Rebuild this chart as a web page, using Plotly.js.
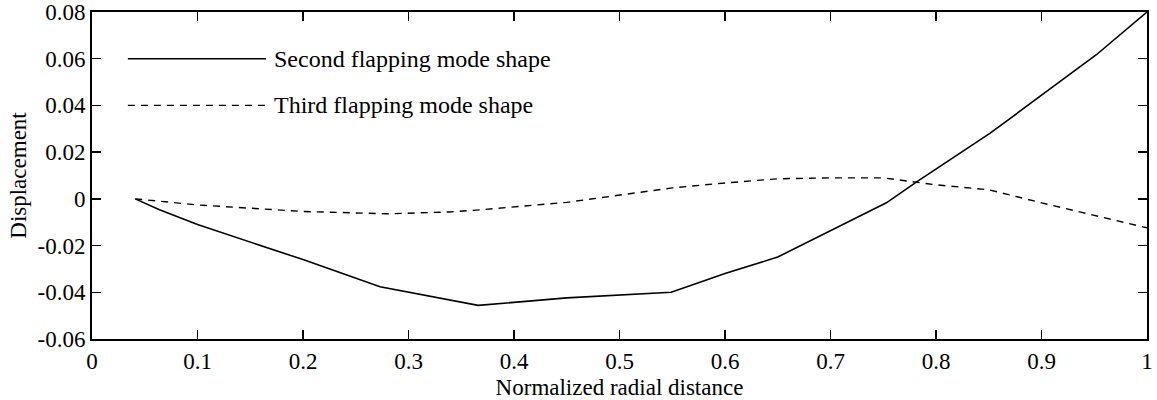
<!DOCTYPE html>
<html>
<head>
<meta charset="utf-8">
<script src="https://cdn.plot.ly/plotly-3.0.1.min.js"></script>
<style>html,body{margin:0;padding:0;background:#fff;}#chart{width:1157px;height:400px;}</style>
</head>
<body>
<div id="chart"></div>
<script>
// Second flapping mode shape (solid)
const secondX = [0.041, 0.064, 0.10, 0.20, 0.273, 0.366, 0.45, 0.549, 0.60, 0.650, 0.753, 0.782, 0.851, 0.901, 0.952, 1.0];
const secondY = [0.0, -0.0047, -0.011, -0.026, -0.0376, -0.0456, -0.0424, -0.040, -0.032, -0.0249, -0.0017, 0.0074, 0.0280, 0.0445, 0.0617, 0.08];
// Third flapping mode shape (dashed)
const thirdX = [0.041, 0.10, 0.20, 0.28, 0.339, 0.368, 0.45, 0.55, 0.60, 0.65, 0.70, 0.75, 0.80, 0.85, 0.90, 1.0];
const thirdY = [0.0, -0.0026, -0.0054, -0.0064, -0.0056, -0.0047, -0.0015, 0.0047, 0.0068, 0.0086, 0.009, 0.009, 0.006, 0.0039, -0.0017, -0.0124];
const seriesNames = ["Second flapping mode shape", "Third flapping mode shape"];
const xTicks = [0, 0.1, 0.2, 0.3, 0.4, 0.5, 0.6, 0.7, 0.8, 0.9, 1];
const xTickText = ["0", "0.1", "0.2", "0.3", "0.4", "0.5", "0.6", "0.7", "0.8", "0.9", "1"];
const yTicks = [-0.06, -0.04, -0.02, 0, 0.02, 0.04, 0.06, 0.08];
const yTickText = ["-0.06", "-0.04", "-0.02", "0", "0.02", "0.04", "0.06", "0.08"];

const fam = "Liberation Serif, Times New Roman, serif";
const tickFont = {family: fam, size: 23, color: "#000"};
const titleFont = {family: fam, size: 23, color: "#000"};
const legFont = {family: fam, size: 24, color: "#000"};

const traces = [
  {x: secondX, y: secondY, mode: "lines", name: seriesNames[0], line: {color: "#000", width: 1.6}, showlegend: false},
  {x: thirdX, y: thirdY, mode: "lines", name: seriesNames[1], line: {color: "#000", width: 1.4, dash: "7px,6px"}, showlegend: false}
];

const layout = {
  width: 1157, height: 400,
  margin: {l: 92, r: 10, t: 12, b: 61},
  paper_bgcolor: "#fff", plot_bgcolor: "#fff",
  font: tickFont,
  xaxis: {
    range: [0, 1], tickvals: xTicks, ticktext: xTickText,
    ticks: "inside", ticklen: 9, tickwidth: 1.5, tickcolor: "#000",
    showline: true, linecolor: "#000", linewidth: 2, mirror: "ticks",
    showgrid: false, zeroline: false, automargin: false,
    tickfont: tickFont,
    title: {text: "Normalized radial distance", font: titleFont, standoff: 8}
  },
  yaxis: {
    range: [-0.06, 0.08], tickvals: yTicks, ticktext: yTickText,
    ticks: "inside", ticklen: 9, tickwidth: 1.5, tickcolor: "#000",
    showline: true, linecolor: "#000", linewidth: 2, mirror: "ticks",
    showgrid: false, zeroline: false, automargin: false,
    tickfont: tickFont,
    title: {text: "Displacement", font: titleFont, standoff: 4}
  },
  shapes: [
    {type: "line", xref: "x", yref: "y", x0: 0.034, x1: 0.165, y0: 0.06, y1: 0.06, line: {color: "#000", width: 1.4}},
    {type: "line", xref: "x", yref: "y", x0: 0.034, x1: 0.167, y0: 0.04, y1: 0.04, line: {color: "#000", width: 1.2, dash: "7px,6px"}}
  ],
  annotations: [
    {xref: "x", yref: "y", x: 0.1705, y: 0.06, text: seriesNames[0], showarrow: false, xanchor: "left", yanchor: "middle", font: legFont},
    {xref: "x", yref: "y", x: 0.1705, y: 0.04, text: seriesNames[1], showarrow: false, xanchor: "left", yanchor: "middle", font: legFont}
  ]
};

Plotly.newPlot("chart", traces, layout, {displayModeBar: false, staticPlot: true});
</script>
</body>
</html>
